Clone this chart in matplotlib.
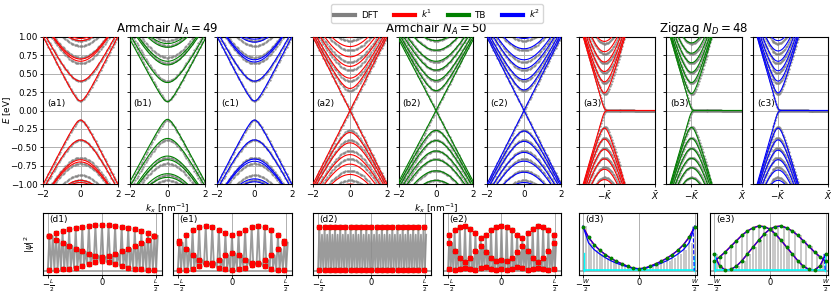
import numpy as np
import matplotlib
matplotlib.use('Agg')
import matplotlib.pyplot as plt
from matplotlib.lines import Line2D

plt.rcParams['font.size'] = 6
plt.rcParams['axes.linewidth'] = 0.8

# --- top row: conduction subband edges (eV), valence side is the mirror
arm49_dft = [0.13, 0.40, 0.64, 0.72, 0.88, 0.95]
arm49_k1 = [0.13, 0.40, 0.67, 0.70, 0.95, 0.98]
arm49_tb = [0.12, 0.38, 0.62, 0.67, 0.86, 0.91]
arm49_k2 = [0.13, 0.40, 0.66, 0.69, 0.93, 0.97]

arm50_dft = [0.0, 0.27, 0.40, 0.55, 0.66, 0.82, 0.95]
arm50_k1 = [0.0, 0.30, 0.44, 0.60, 0.73, 0.87, 1.00]
arm50_tb = [0.0, 0.27, 0.41, 0.55, 0.67, 0.82, 0.95]
arm50_k2 = [0.0, 0.28, 0.42, 0.57, 0.69, 0.84, 0.98]

zz48_dft = [0.22, 0.37, 0.51, 0.64, 0.77, 0.91]
zz48_k1 = [0.24, 0.39, 0.53, 0.66, 0.80, 0.94]
zz48_tb = [0.23, 0.38, 0.52, 0.65, 0.78, 0.92]
zz48_k2 = [0.24, 0.40, 0.54, 0.67, 0.81, 0.95]

# group velocities (eV nm for armchair, eV per pi/a for zigzag)
v_arm = {'dft': 0.50, 'k1': 0.50, 'tb': 0.48, 'k2': 0.50}
v_zz = 3.6
k_min_zz = -0.665  # position of subband minima
k_edge = -2 / 3    # -K point, start of the flat edge band

# --- bottom row: |psi|^2 read at the marker sites
x17 = np.linspace(-0.49, 0.49, 17)
d1_top = [0.56, 0.61, 0.64, 0.67, 0.69, 0.71, 0.72, 0.73, 0.73, 0.73, 0.72, 0.71, 0.69, 0.67, 0.64, 0.61, 0.56]
d1_mid = [0.56, 0.50, 0.45, 0.40, 0.35, 0.31, 0.27, 0.24, 0.22, 0.24, 0.27, 0.31, 0.35, 0.40, 0.45, 0.50, 0.56]
d1_low = [0.01, 0.01, 0.02, 0.03, 0.05, 0.08, 0.11, 0.14, 0.16, 0.14, 0.11, 0.08, 0.05, 0.03, 0.02, 0.01, 0.01]

e1_top = [0.48, 0.58, 0.65, 0.70, 0.72, 0.71, 0.66, 0.60, 0.57, 0.60, 0.66, 0.71, 0.72, 0.70, 0.65, 0.58, 0.48]
e1_mid = [0.45, 0.35, 0.25, 0.17, 0.12, 0.13, 0.18, 0.25, 0.28, 0.25, 0.18, 0.13, 0.12, 0.17, 0.25, 0.35, 0.45]
e1_low = [0.01, 0.01, 0.03, 0.07, 0.10, 0.09, 0.05, 0.02, 0.01, 0.02, 0.05, 0.09, 0.10, 0.07, 0.03, 0.01, 0.01]

x21 = np.linspace(-0.49, 0.49, 21)
d2_top = [0.71] * 21
d2_mid = [0.58] * 21
d2_low = [0.01] * 21

e2_top = [0.58, 0.66, 0.71, 0.72, 0.68, 0.60, 0.53, 0.58, 0.66, 0.71, 0.72,
          0.71, 0.66, 0.58, 0.53, 0.60, 0.68, 0.72, 0.71, 0.66, 0.58]
e2_mid = [0.45, 0.32, 0.20, 0.14, 0.20, 0.32, 0.40, 0.30, 0.20, 0.15, 0.18,
          0.15, 0.20, 0.30, 0.40, 0.32, 0.20, 0.14, 0.20, 0.32, 0.45]
e2_low = [0.02, 0.01, 0.02, 0.05, 0.03, 0.01, 0.04, 0.06, 0.03, 0.01, 0.02,
          0.01, 0.03, 0.06, 0.04, 0.01, 0.03, 0.05, 0.02, 0.01, 0.02]

xw = np.linspace(-0.5, 0.5, 21)
d3_red = [0.71, 0.54, 0.42, 0.33, 0.26, 0.20, 0.15, 0.11, 0.07, 0.04, 0.03,
          0.04, 0.07, 0.11, 0.15, 0.20, 0.26, 0.33, 0.42, 0.54, 0.71]
d3_blue = [0.72, 0.45, 0.34, 0.27, 0.21, 0.16, 0.12, 0.09, 0.06, 0.04, 0.03,
           0.04, 0.06, 0.09, 0.12, 0.16, 0.21, 0.27, 0.34, 0.45, 0.72]
e3_a = [0.15, 0.22, 0.30, 0.39, 0.48, 0.57, 0.64, 0.69, 0.72, 0.71, 0.67,
        0.59, 0.49, 0.38, 0.27, 0.16, 0.07, 0.02, 0.01, 0.08, 0.27]
e3_b = e3_a[::-1]

W, H = 831, 294
fig = plt.figure(figsize=(W / 100, H / 100), dpi=100)


def px_axes(x0, x1, y0, y1):
    return fig.add_axes([x0 / W, 1 - y1 / H, (x1 - x0) / W, (y1 - y0) / H])


def style_top(ax):
    ax.set_ylim(-1, 1)
    ax.set_yticks(np.arange(-1, 1.01, 0.25))
    ax.grid(True, color='#b0b0b0', lw=0.7)
    ax.set_axisbelow(True)
    ax.tick_params(length=2.5, width=0.6, pad=1.5, labelsize=6.3)


k = np.linspace(-2, 2, 400)
kd = np.arange(-2, 2.01, 0.07)
xz = np.linspace(-1, 0, 500)
xzd = np.arange(-1, 0.001, 0.013)


def arm_panel(ax, dft, model, v, color):
    for d in model:
        e = np.sqrt(d**2 + (v * k)**2)
        ax.plot(k, e, color=color, lw=0.8, zorder=3)
        ax.plot(k, -e, color=color, lw=0.8, zorder=3)
    for d in dft:
        e = np.sqrt(d**2 + (v_arm['dft'] * kd)**2)
        ax.plot(kd, e, 'o', color='gray', ms=1.7, mec='none', alpha=0.85, zorder=2)
        ax.plot(kd, -e, 'o', color='gray', ms=1.7, mec='none', alpha=0.85, zorder=2)
    ax.set_xlim(-2, 2)
    ax.set_xticks([-2, 0, 2])
    style_top(ax)


def zz_panel(ax, dft, model, color):
    for xx, ms, edges, c in [(xz, None, model, color), (xzd, 1.7, dft, 'gray')]:
        curves = [v_zz * 0.012 * np.log1p(np.exp((k_edge - xx) / 0.012))]
        for d in edges:
            curves.append(np.sqrt(d**2 + (v_zz * (xx - k_min_zz))**2))
        for e in curves:
            if ms is None:
                ax.plot(xx, e, color=c, lw=0.8, zorder=3)
                ax.plot(xx, -e, color=c, lw=0.8, zorder=3)
            else:
                ax.plot(xx, e, 'o', color=c, ms=ms, mec='none', alpha=0.85, zorder=2)
                ax.plot(xx, -e, 'o', color=c, ms=ms, mec='none', alpha=0.85, zorder=2)
    ax.set_xlim(-1, 0)
    ax.set_xticks([k_edge, 0])
    ax.set_xticklabels([r'$-\bar{K}$', r'$\bar{X}$'])
    style_top(ax)


top_x = [(43, 118), (130, 205), (217, 292),
         (313, 387), (399, 473), (487, 561),
         (579, 655), (666, 742), (753, 828)]
top_labels = ['(a1)', '(b1)', '(c1)', '(a2)', '(b2)', '(c2)', '(a3)', '(b3)', '(c3)']
colors = ['red', 'green', 'blue']
keys = ['k1', 'tb', 'k2']
arm_sets = [(arm49_dft, [arm49_k1, arm49_tb, arm49_k2]),
            (arm50_dft, [arm50_k1, arm50_tb, arm50_k2])]
titles = [r'Armchair $N_A = 49$', r'Armchair $N_A = 50$', r'Zigzag $N_D = 48$']

for i, (x0, x1) in enumerate(top_x):
    ax = px_axes(x0, x1, 37, 184)
    g, j = divmod(i, 3)
    if g < 2:
        dft, models = arm_sets[g]
        arm_panel(ax, dft, models[j], v_arm[keys[j]], colors[j])
    else:
        zz_panel(ax, zz48_dft, [zz48_k1, zz48_tb, zz48_k2][j], colors[j])
    ax.text(0.05, 0.545, top_labels[i], transform=ax.transAxes, fontsize=6.5,
            va='center', ha='left', zorder=5)
    if i == 0:
        ax.set_ylabel(r'$E$ [eV]', fontsize=6.3)
        ax.yaxis.set_label_coords(-0.40, 0.5)
    else:
        ax.set_yticklabels([])
    if j == 1:
        ax.set_title(titles[g], fontsize=8.5, pad=3)
        if g < 2:
            ax.set_xlabel(r'$k_x$ [nm$^{-1}$]', fontsize=6.5, labelpad=1.5)


def style_bottom(ax, lab):
    ax.set_ylim(-0.07, 0.93)
    ax.set_yticks([])
    ax.grid(True, axis='x', color='#b0b0b0', lw=0.7)
    ax.set_axisbelow(True)
    ax.tick_params(length=2, width=0.6, pad=0, labelsize=6.0)
    ax.text(0.05, 0.97, lab, transform=ax.transAxes, fontsize=6.5, va='top', ha='left', zorder=6)


def wave_panel(ax, xs, top, mid, low, lab, mark_mid=True):
    xs = np.asarray(xs)
    s = (xs[1] - xs[0]) / 2
    gx = np.ravel(np.column_stack([xs - s / 2, xs, xs + s / 2, xs + s]))
    gy = np.ravel(np.column_stack([low, top, low, mid]))
    ax.axhline(0, color='gray', lw=1.2, alpha=0.8, zorder=1)
    ax.plot(gx, gy, color='#8a8a8a', lw=1.3, alpha=0.85, zorder=2)
    rows = [top, low] + ([mid] if mark_mid else [])
    for r in rows:
        ax.plot(xs, r, 'o', color='green', ms=3.0, mec='green', zorder=3)
        ax.plot(xs, r, 'x', color='blue', ms=3.4, mew=0.4, zorder=4)
        ax.plot(xs, r, 's', color='red', ms=2.2, mec='red', zorder=5)
    ax.set_xlim(-0.55, 0.56)
    ax.set_xticks([-0.5, 0, 0.5])
    ax.set_xticklabels([r'$-\frac{L}{2}$', '0', r'$\frac{L}{2}$'])
    style_bottom(ax, lab)


def edge_panel(ax, curves, gray_rows, lab):
    ax.axhline(0, color='gray', lw=1.2, alpha=0.8, zorder=1)
    for n, c in enumerate(gray_rows):
        ax.vlines(xw + 0.025 * n, 0, c, color='gray', lw=1.1, alpha=0.55, zorder=2)
    for c in curves:
        ax.plot(xw, c, color='red', lw=1.1, zorder=3)
        ax.plot(xw, c, color='blue', lw=0.8, zorder=4)
        ax.plot(xw, c, 'o', color='green', ms=1.8, zorder=5)
    ax.plot([-0.49, 0.49], [0.005, 0.005], color='cyan', lw=1.2, zorder=4)
    ax.plot([-0.49, -0.49], [0, 0.28], color='cyan', lw=1.0, zorder=4)
    ax.plot([0.49, 0.49], [0, 0.24], color='cyan', lw=1.0, zorder=4)
    ax.plot([0.485, 0.495], [curves[0][-1], 0], color='blue', lw=0.8, ls='--', zorder=4)
    ax.set_xlim(-0.535, 0.52)
    ax.set_xticks([-0.5, 0, 0.5])
    ax.set_xticklabels([r'$-\frac{W}{2}$', '0', r'$\frac{W}{2}$'])
    style_bottom(ax, lab)


bot_y = (213, 275)
ax = px_axes(43, 162, *bot_y)
wave_panel(ax, x17, d1_top, d1_mid, d1_low, '(d1)')
ax.set_ylabel(r'$|\psi|^2$', fontsize=6.5, labelpad=4)
ax = px_axes(173, 292, *bot_y)
wave_panel(ax, x17, e1_top, e1_mid, e1_low, '(e1)')
ax = px_axes(313, 431, *bot_y)
wave_panel(ax, x21, d2_top, d2_mid, d2_low, '(d2)', mark_mid=False)
ax = px_axes(443, 561, *bot_y)
wave_panel(ax, x21, e2_top, e2_mid, e2_low, '(e2)')
ax = px_axes(579, 697, *bot_y)
edge_panel(ax, [d3_red], [d3_red, d3_blue], '(d3)')
ax.plot(xw, d3_blue, color='blue', lw=0.9, zorder=4)
ax = px_axes(710, 828, *bot_y)
edge_panel(ax, [e3_a, e3_b], [e3_a, e3_b], '(e3)')

handles = [Line2D([], [], color=c, lw=3) for c in ['gray', 'red', 'green', 'blue']]
fig.legend(handles, ['DFT', r'$k^1$', 'TB', r'$k^2$'], loc='upper center',
           bbox_to_anchor=(0.526, 1.0), ncol=4, fontsize=6.3, handlelength=2.4,
           columnspacing=1.9, borderpad=0.35, handletextpad=0.6)

fig.savefig('out.png', dpi=100)
